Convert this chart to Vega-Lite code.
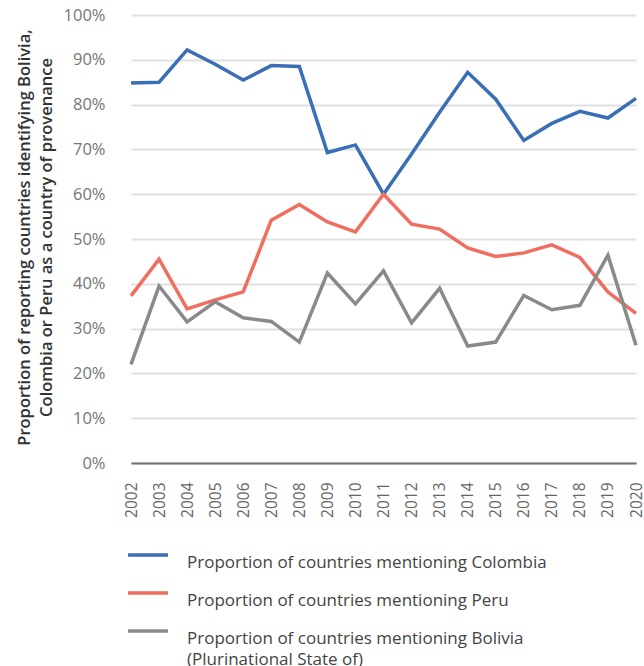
{
  "$schema": "https://vega.github.io/schema/vega-lite/v6.json",
  "width": 527,
  "height": 448,
  "autosize": {"type": "none"},
  "padding": {"left": 117, "top": 15, "right": 0, "bottom": 203},
  "background": "white",
  "config": {
    "font": "Open Sans",
    "view": {"stroke": null}
  },
  "data": {
    "values": [
      {"year": "2002", "series": "Colombia", "value": 0.848},
      {"year": "2003", "series": "Colombia", "value": 0.850},
      {"year": "2004", "series": "Colombia", "value": 0.922},
      {"year": "2005", "series": "Colombia", "value": 0.890},
      {"year": "2006", "series": "Colombia", "value": 0.855},
      {"year": "2007", "series": "Colombia", "value": 0.887},
      {"year": "2008", "series": "Colombia", "value": 0.885},
      {"year": "2009", "series": "Colombia", "value": 0.693},
      {"year": "2010", "series": "Colombia", "value": 0.710},
      {"year": "2011", "series": "Colombia", "value": 0.600},
      {"year": "2012", "series": "Colombia", "value": 0.690},
      {"year": "2013", "series": "Colombia", "value": 0.783},
      {"year": "2014", "series": "Colombia", "value": 0.872},
      {"year": "2015", "series": "Colombia", "value": 0.812},
      {"year": "2016", "series": "Colombia", "value": 0.720},
      {"year": "2017", "series": "Colombia", "value": 0.758},
      {"year": "2018", "series": "Colombia", "value": 0.785},
      {"year": "2019", "series": "Colombia", "value": 0.770},
      {"year": "2020", "series": "Colombia", "value": 0.814},
      {"year": "2002", "series": "Peru", "value": 0.373},
      {"year": "2003", "series": "Peru", "value": 0.455},
      {"year": "2004", "series": "Peru", "value": 0.344},
      {"year": "2005", "series": "Peru", "value": 0.364},
      {"year": "2006", "series": "Peru", "value": 0.382},
      {"year": "2007", "series": "Peru", "value": 0.542},
      {"year": "2008", "series": "Peru", "value": 0.577},
      {"year": "2009", "series": "Peru", "value": 0.538},
      {"year": "2010", "series": "Peru", "value": 0.516},
      {"year": "2011", "series": "Peru", "value": 0.600},
      {"year": "2012", "series": "Peru", "value": 0.533},
      {"year": "2013", "series": "Peru", "value": 0.522},
      {"year": "2014", "series": "Peru", "value": 0.480},
      {"year": "2015", "series": "Peru", "value": 0.461},
      {"year": "2016", "series": "Peru", "value": 0.469},
      {"year": "2017", "series": "Peru", "value": 0.487},
      {"year": "2018", "series": "Peru", "value": 0.459},
      {"year": "2019", "series": "Peru", "value": 0.382},
      {"year": "2020", "series": "Peru", "value": 0.334},
      {"year": "2002", "series": "Bolivia", "value": 0.220},
      {"year": "2003", "series": "Bolivia", "value": 0.395},
      {"year": "2004", "series": "Bolivia", "value": 0.315},
      {"year": "2005", "series": "Bolivia", "value": 0.360},
      {"year": "2006", "series": "Bolivia", "value": 0.324},
      {"year": "2007", "series": "Bolivia", "value": 0.316},
      {"year": "2008", "series": "Bolivia", "value": 0.270},
      {"year": "2009", "series": "Bolivia", "value": 0.424},
      {"year": "2010", "series": "Bolivia", "value": 0.355},
      {"year": "2011", "series": "Bolivia", "value": 0.429},
      {"year": "2012", "series": "Bolivia", "value": 0.313},
      {"year": "2013", "series": "Bolivia", "value": 0.390},
      {"year": "2014", "series": "Bolivia", "value": 0.261},
      {"year": "2015", "series": "Bolivia", "value": 0.270},
      {"year": "2016", "series": "Bolivia", "value": 0.374},
      {"year": "2017", "series": "Bolivia", "value": 0.342},
      {"year": "2018", "series": "Bolivia", "value": 0.352},
      {"year": "2019", "series": "Bolivia", "value": 0.464},
      {"year": "2020", "series": "Bolivia", "value": 0.263}
    ]
  },
  "mark": {"type": "line", "strokeWidth": 3.5, "strokeJoin": "miter"},
  "encoding": {
    "x": {
      "field": "year",
      "type": "ordinal",
      "scale": {"type": "point", "range": [14, 519], "padding": 0},
      "axis": {
        "title": null,
        "labelAngle": -90,
        "labelFontSize": 15.5,
        "labelColor": "#666666",
        "labelPadding": 19,
        "ticks": false,
        "grid": false,
        "domain": true,
        "domainColor": "#707070",
        "domainWidth": 2
      }
    },
    "y": {
      "field": "value",
      "type": "quantitative",
      "scale": {"domain": [0, 1], "nice": false},
      "axis": {
        "values": [0, 0.1, 0.2, 0.3, 0.4, 0.5, 0.6, 0.7, 0.8, 0.9, 1],
        "format": ".0%",
        "labelFontSize": 16.5,
        "labelColor": "#767676",
        "labelPadding": 12,
        "ticks": false,
        "domain": false,
        "grid": true,
        "gridColor": "#e0e0e0",
        "gridWidth": 2,
        "title": ["Proportion of reporting countries identifying Bolivia,", "Colombia or Peru as a country of provenance"],
        "titleFontSize": 16.5,
        "titleFontWeight": 600,
        "titleColor": "#333333",
        "titleLineHeight": 22,
        "titleAngle": -90,
        "titleAlign": "center",
        "titleBaseline": "bottom",
        "titleX": -85,
        "titleY": 222
      }
    },
    "color": {
      "field": "series",
      "type": "nominal",
      "sort": ["Colombia", "Peru", "Bolivia"],
      "scale": {"domain": ["Colombia", "Peru", "Bolivia"], "range": ["#3a6fb7", "#ef6e5f", "#8a8a8a"]},
      "legend": {
        "orient": "none",
        "direction": "vertical",
        "columns": 1,
        "legendX": 9,
        "legendY": 518,
        "title": null,
        "symbolType": "stroke",
        "symbolSize": 1600,
        "symbolStrokeWidth": 3.5,
        "labelFontSize": 17,
        "labelColor": "#444444",
        "labelBaseline": "top",
        "labelOffset": 17,
        "labelLimit": 500,
        "rowPadding": 0,
        "labelExpr": "datum.value == 'Bolivia' ? ['Proportion of countries mentioning Bolivia', '(Plurinational State of)'] : 'Proportion of countries mentioning ' + datum.value",
        "encode": {
          "labels": {"update": {"lineHeight": {"value": 21}}}
        }
      }
    }
  }
}
